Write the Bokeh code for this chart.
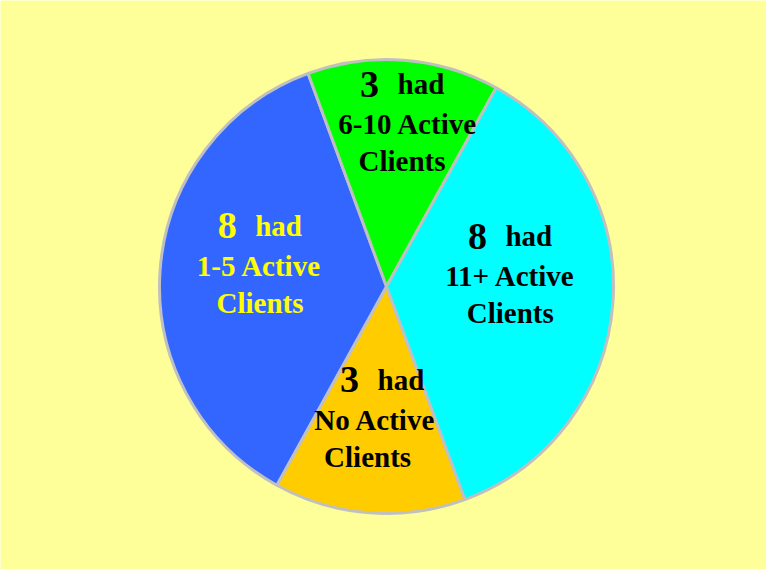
import numpy as np
from bokeh.plotting import figure
from bokeh.models import ColumnDataSource, Range1d
from bokeh.embed import file_html
from bokeh.resources import INLINE
from bokeh.core.properties import value

# ---- data ----
categories = ["No Active", "1-5 Active", "6-10 Active", "11+ Active"]
counts = [3, 8, 3, 8]
slice_colors = ["#FFCC00", "#3366FF", "#00FF00", "#00FFFF"]
label_colors = ["#000000", "#FFFF00", "#000000", "#000000"]
line3_text = "Clients"

# ---- layout ----
W, H = 766, 569
cx, cy = 386, 283
R = 227
start_deg = -69.8
label_r = [0.628, 0.563, 0.681, 0.545]
label_dang = [-0.25, -0.9, -3.65, 4.95]
line_dx = [(6.5, 0, -7.5), (0, 0, 0.8), (-6.5, 0, -6), (-0.8, 0, 0)]
TEXT_SHIFT = 9
FONT = "Liberation Serif"

total = float(sum(counts))
spans = [c / total * 2 * np.pi for c in counts]
starts, ends, mids = [], [], []
a = np.deg2rad(start_deg)
for s in spans:
    starts.append(a)
    ends.append(a - s)
    mids.append(a - s / 2)
    a -= s

src = ColumnDataSource(dict(start=starts, end=ends, color=slice_colors, cat=categories))

p = figure(width=W, height=H, x_range=Range1d(0, W), y_range=Range1d(0, H),
           output_backend="svg", toolbar_location=None, min_border=0,
           x_axis_type=None, y_axis_type=None,
           background_fill_color="#FFFF99", border_fill_color="#FFFF99",
           outline_line_color=None)
p.grid.visible = False

p.wedge(x=cx, y=cy, radius=R, start_angle="start", end_angle="end",
        direction="clock", fill_color="color", line_color="#C0C0C0",
        line_width=3, source=src)

num_x, num_y, num_t, num_c = [], [], [], []
had_x, had_y, had_c = [], [], []
l_x, l_y, l_t, l_c = [], [], [], []
for i, c in enumerate(counts):
    ang = mids[i] + np.deg2rad(label_dang[i])
    ax = cx + label_r[i] * R * np.cos(ang)
    ay = cy + label_r[i] * R * np.sin(ang) + TEXT_SHIFT
    d1, d2, d3 = line_dx[i]
    # line 1: big number + "had"
    num_x.append(ax + d1 - 32); num_y.append(ay + 40); num_t.append(str(c)); num_c.append(label_colors[i])
    had_x.append(ax + d1 - 4); had_y.append(ay + 40); had_c.append(label_colors[i])
    # lines 2 and 3
    l_x += [ax + d2, ax + d3]
    l_y += [ay, ay - 37]
    l_t += [categories[i], line3_text]
    l_c += [label_colors[i], label_colors[i]]

p.text(x="x", y="y", text="t", text_color="c",
       source=ColumnDataSource(dict(x=num_x, y=num_y, t=num_t, c=num_c)),
       text_font=value(FONT), text_font_style="bold", text_font_size="38px",
       text_align="center", text_baseline="alphabetic")
p.text(x="x", y="y", text="t", text_color="c",
       source=ColumnDataSource(dict(x=had_x, y=had_y, t=["had"] * len(had_x), c=had_c)),
       text_font=value(FONT), text_font_style="bold", text_font_size="29px",
       text_align="left", text_baseline="alphabetic")
p.text(x="x", y="y", text="t", text_color="c",
       source=ColumnDataSource(dict(x=l_x, y=l_y, t=l_t, c=l_c)),
       text_font=value(FONT), text_font_style="bold", text_font_size="29px",
       text_align="center", text_baseline="alphabetic")

open("out.html", "w").write(file_html(p, INLINE))
